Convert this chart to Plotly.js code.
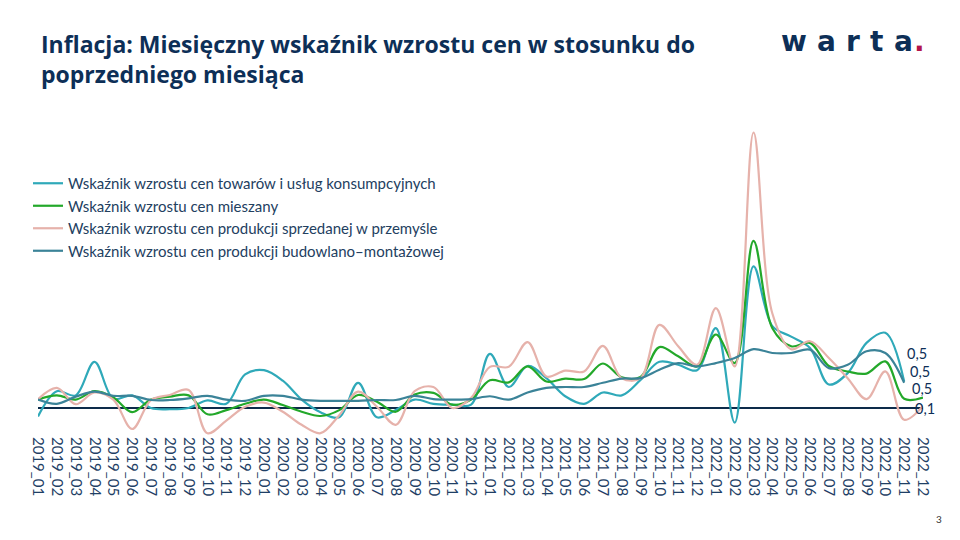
<!DOCTYPE html>
<html>
<head>
<meta charset="utf-8">
<script src="https://cdn.plot.ly/plotly-3.0.1.min.js"></script>
<style>
  html, body { margin: 0; padding: 0; background: #ffffff; }
  #chart { width: 960px; height: 540px; }
</style>
</head>
<body>
<div id="chart"></div>
<script>
// ---- data (monthly change, %) ----
const months = [
  "2019_01","2019_02","2019_03","2019_04","2019_05","2019_06","2019_07","2019_08","2019_09","2019_10","2019_11","2019_12",
  "2020_01","2020_02","2020_03","2020_04","2020_05","2020_06","2020_07","2020_08","2020_09","2020_10","2020_11","2020_12",
  "2021_01","2021_02","2021_03","2021_04","2021_05","2021_06","2021_07","2021_08","2021_09","2021_10","2021_11","2021_12",
  "2022_01","2022_02","2022_03","2022_04","2022_05","2022_06","2022_07","2022_08","2022_09","2022_10","2022_11","2022_12"
];

const seriesNames = [
  "Wskaźnik wzrostu cen towarów i usług konsumpcyjnych",
  "Wskaźnik wzrostu cen mieszany",
  "Wskaźnik wzrostu cen produkcji sprzedanej w przemyśle",
  "Wskaźnik wzrostu cen produkcji budowlano–montażowej"
];

const cpi = [
  -0.2, 0.4, 0.3, 1.1, 0.22, 0.3, 0.0, -0.03, 0.0, 0.18, 0.1, 0.8,
  0.9, 0.65, 0.2, -0.1, -0.22, 0.6, -0.22, -0.05, 0.2, 0.1, 0.08, 0.08,
  1.29, 0.5, 1.0, 0.71, 0.28, 0.1, 0.37, 0.3, 0.67, 1.1, 1.03, 0.9,
  1.9, -0.35, 3.37, 1.95, 1.7, 1.43, 0.56, 0.83, 1.55, 1.79, 0.63
];

const mixed = [
  0.2, 0.3, 0.2, 0.4, 0.25, -0.1, 0.2, 0.27, 0.3, -0.15, -0.05, 0.1,
  0.2, 0.07, -0.09, -0.19, -0.05, 0.31, 0.15, -0.09, 0.32, 0.36, 0.08, 0.2,
  0.66, 0.61, 0.99, 0.63, 0.7, 0.69, 1.06, 0.73, 0.74, 1.45, 1.23, 0.99,
  1.75, 1.07, 3.98, 1.9, 1.47, 1.55, 1.0, 0.87, 0.82, 1.11, 0.22, 0.25
];

const ppi = [
  0.21, 0.48, 0.09, 0.37, 0.2, -0.5, 0.19, 0.31, 0.43, -0.6, -0.3, 0.03,
  0.13, -0.09, -0.4, -0.6, -0.17, 0.39, 0.03, -0.4, 0.4, 0.5, 0.0, 0.24,
  0.98, 0.98, 1.57, 0.75, 0.89, 0.87, 1.48, 0.71, 0.71, 1.98, 1.47, 1.03,
  2.38, 0.99, 6.56, 2.25, 1.4, 1.59, 1.19, 0.71, 0.21, 0.87, -0.28, 0.05
];

const construction = [
  0.2, 0.1, 0.27, 0.39, 0.29, 0.29, 0.19, 0.19, 0.23, 0.29, 0.2, 0.17,
  0.29, 0.29, 0.2, 0.17, 0.17, 0.17, 0.19, 0.19, 0.29, 0.21, 0.2, 0.21,
  0.28, 0.2, 0.37, 0.48, 0.5, 0.5, 0.6, 0.7, 0.71, 0.91, 1.07, 0.99,
  1.07, 1.19, 1.4, 1.31, 1.31, 1.39, 0.95, 1.03, 1.35, 1.31, 0.6
];

const endLabels = ["0,5", "0,5", "0,5", "0,1"];

// ---- styling ----
const colors = ["#2fa9b9", "#23a82a", "#e6b2ab", "#3b8398"];
const navy = "#0d2f57";
const textCol = "#23405f";

const allSeries = [cpi, mixed, ppi, construction];
const traces = allSeries.map((vals, k) => ({
  type: "scatter",
  mode: "lines",
  name: seriesNames[k],
  x: months.slice(0, vals.length),
  y: vals,
  line: { color: colors[k], width: 2.2, shape: "spline", smoothing: 1 },
  hoverinfo: "skip"
}));

// plot area in pixels
const W = 960, H = 540;
const plotLeft = 38, plotRight = 923.5, plotTop = 120, plotBottom = 436, zeroY = 408, pxPerUnit = 42;
const yMin = -(plotBottom - zeroY) / pxPerUnit;
const yMax = (zeroY - plotTop) / pxPerUnit;

// pixel -> paper (plot-area) coordinates for layout positions
const px = v => (v - plotLeft) / (plotRight - plotLeft);
const py = v => (plotBottom - v) / (plotBottom - plotTop);

const annotations = [];
// end-of-series labels
const labelPos = [[917, 353], [920, 371], [922, 388], [926, 408]];
endLabels.forEach((t, i) => {
  annotations.push({
    xref: "paper", yref: "paper", x: px(labelPos[i][0]), y: py(labelPos[i][1]),
    text: t, showarrow: false, xanchor: "center", yanchor: "middle",
    font: { family: "Lato, 'Open Sans', sans-serif", size: 14.5, color: navy }
  });
});
// logo
const logoLetters = ["w", "a", "r", "t", "a", "."];
const logoX = [794.5, 826.5, 853.5, 877, 904, 919.5];
logoLetters.forEach((ch, i) => {
  annotations.push({
    xref: "paper", yref: "paper", x: px(logoX[i]), y: py(41),
    text: "<b>" + ch + "</b>", showarrow: false, xanchor: "center", yanchor: "middle",
    font: { family: "'DejaVu Sans', sans-serif", size: 28, color: ch === "." ? "#b3154b" : navy }
  });
});
// page number
annotations.push({
  xref: "paper", yref: "paper", x: px(940), y: py(519),
  text: "3", showarrow: false, xanchor: "center", yanchor: "middle",
  font: { family: "Lato, sans-serif", size: 10, color: "#333333" }
});

const layout = {
  width: W, height: H,
  paper_bgcolor: "#ffffff", plot_bgcolor: "#ffffff",
  margin: { l: plotLeft, r: W - plotRight, t: plotTop, b: H - plotBottom, pad: 0 },
  title: {
    text: "<b>Inflacja: Miesięczny wskaźnik wzrostu cen w stosunku do<br>poprzedniego miesiąca</b>",
    xref: "container", yref: "container", x: 41 / W, xanchor: "left", y: 1 - 53 / H, yanchor: "top",
    font: { family: "'Open Sans', Lato, sans-serif", size: 23, color: navy }
  },
  showlegend: true,
  legend: {
    x: px(28), xref: "paper", y: py(167), yref: "paper", xanchor: "left", yanchor: "top",
    bgcolor: "rgba(0,0,0,0)", borderwidth: 0,
    font: { family: "Lato, 'Open Sans', sans-serif", size: 15, color: textCol },
    itemwidth: 30, tracegroupgap: 0
  },
  xaxis: {
    type: "category",
    categoryorder: "array", categoryarray: months,
    tickvals: months, ticktext: months,
    range: [0, months.length - 1],
    tickangle: 90,
    showgrid: false, zeroline: false, showline: false, ticks: "",
    tickfont: { family: "Lato, 'Open Sans', sans-serif", size: 15, color: "#1f3f66" },
    fixedrange: true
  },
  yaxis: {
    range: [yMin, yMax],
    showgrid: false, showticklabels: false, ticks: "", showline: false,
    zeroline: true, zerolinecolor: "#0d2b4a", zerolinewidth: 1.3,
    fixedrange: true
  },
  annotations: annotations
};

Plotly.newPlot("chart", traces, layout, { staticPlot: true, displayModeBar: false });
</script>
</body>
</html>
